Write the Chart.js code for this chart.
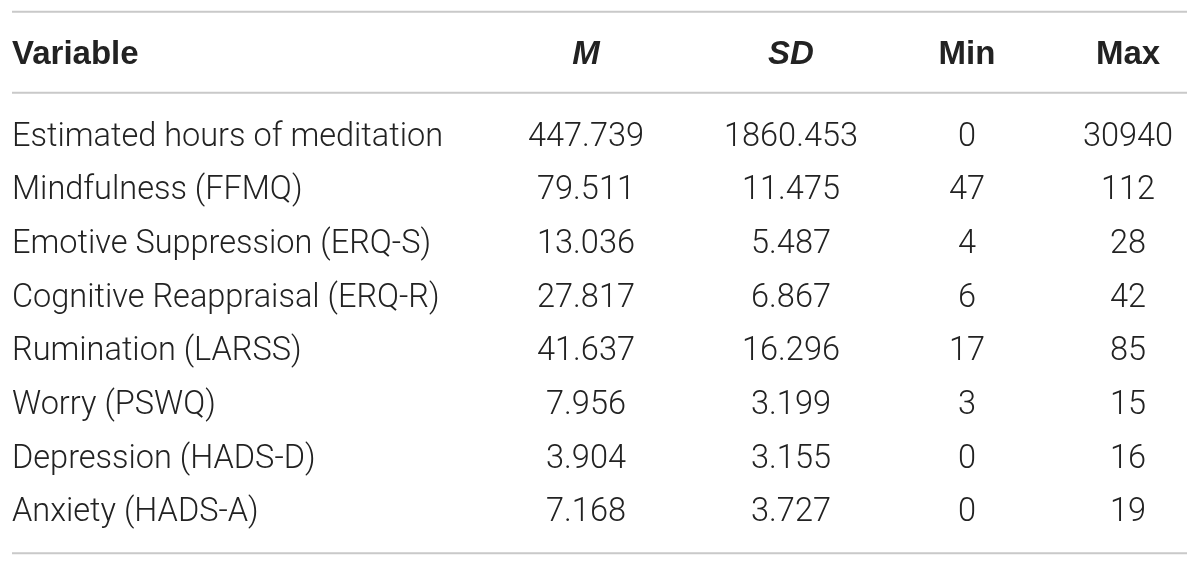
<!DOCTYPE html>
<html>
<head>
<meta charset="utf-8">
<script src="https://cdn.jsdelivr.net/npm/chart.js@4.4.0/dist/chart.umd.min.js"></script>
<style>
  html, body { margin: 0; padding: 0; background: #ffffff; }
  #wrap { width: 1200px; height: 566px; }
</style>
</head>
<body>
<div id="wrap"><canvas id="descTable"></canvas></div>
<script>
// Tabellendaten
const headers = ['Variable', 'M', 'SD', 'Min', 'Max'];
const variables = [
    'Estimated hours of meditation',
    'Mindfulness (FFMQ)',
    'Emotive Suppression (ERQ-S)',
    'Cognitive Reappraisal (ERQ-R)',
    'Rumination (LARSS)',
    'Worry (PSWQ)',
    'Depression (HADS-D)',
    'Anxiety (HADS-A)'
];
const means = [447.739, 79.511, 13.036, 27.817, 41.637, 7.956, 3.904, 7.168];
const sds = [1860.453, 11.475, 5.487, 6.867, 16.296, 3.199, 3.155, 3.727];
const mins = [0, 47, 4, 6, 17, 3, 0, 0];
const maxs = [30940, 112, 28, 42, 85, 15, 16, 19];

// Layout (Spaltenanker auf der x-Achse, 0..1200)
const layout = {
    colX: [12, 586, 791, 967, 1128],
    align: ['left', 'center', 'center', 'center', 'center'],
    ruleFrom: 12,
    ruleTo: 1187
};
const bodyFont = '300 32.5px Roboto, "Liberation Sans", sans-serif';
const headFont = 'bold 33px "Liberation Sans", Arial, sans-serif';
const headItalic = 'italic bold 33px "Liberation Sans", Arial, sans-serif';
const textColor = '#222222';
const ruleColor = '#c9c9c9';

const columns = [
    variables,
    means.map(v => v.toFixed(3)),
    sds.map(v => v.toFixed(3)),
    mins.map(v => String(v)),
    maxs.map(v => String(v))
];

const datasets = columns.map((cells, c) => ({
    label: headers[c],
    cells: cells,
    data: variables.map(v => ({ x: layout.colX[c], y: v })),
    pointRadius: 0,
    pointHoverRadius: 0
}));

// Plugin zum Zeichnen der Zellen und Linien
const tablePlugin = {
    id: 'tablePlugin',
    afterDatasetsDraw(chart) {
        const ctx = chart.ctx;
        const x = chart.scales.x;
        const y = chart.scales.y;
        const first = y.getPixelForValue(0);
        const last = y.getPixelForValue(variables.length - 1);
        const rowH = y.getPixelForValue(1) - first;
        const headY = first - rowH * 1.53;
        const capOff = 11;

        ctx.save();
        // Linien
        ctx.strokeStyle = ruleColor;
        ctx.lineWidth = 2;
        const x0 = x.getPixelForValue(layout.ruleFrom);
        const x1 = x.getPixelForValue(layout.ruleTo);
        [headY - 41, headY + 40, last + 43].forEach(ly => {
            ctx.beginPath();
            ctx.moveTo(x0, ly);
            ctx.lineTo(x1, ly);
            ctx.stroke();
        });

        ctx.fillStyle = textColor;
        ctx.textBaseline = 'alphabetic';
        // Kopfzeile
        headers.forEach((h, c) => {
            ctx.font = (h === 'M' || h === 'SD') ? headItalic : headFont;
            ctx.textAlign = layout.align[c];
            ctx.fillText(h, x.getPixelForValue(layout.colX[c]), headY + capOff);
        });

        // Zellen
        ctx.font = bodyFont;
        chart.data.datasets.forEach((ds, c) => {
            const meta = chart.getDatasetMeta(c);
            ctx.textAlign = layout.align[c];
            meta.data.forEach((pt, j) => {
                ctx.fillText(ds.cells[j], pt.x, pt.y + capOff);
            });
        });
        ctx.restore();
    }
};

new Chart(document.getElementById('descTable'), {
    type: 'scatter',
    data: { datasets: datasets },
    options: {
        responsive: true,
        maintainAspectRatio: false,
        animation: false,
        layout: { padding: { top: 108, bottom: 29, left: 0, right: 0 } },
        scales: {
            x: { type: 'linear', min: 0, max: 1200, display: false },
            y: { type: 'category', labels: variables, offset: true, display: false }
        },
        plugins: {
            legend: { display: false },
            tooltip: { enabled: false }
        }
    },
    plugins: [tablePlugin]
});
</script>
</body>
</html>
